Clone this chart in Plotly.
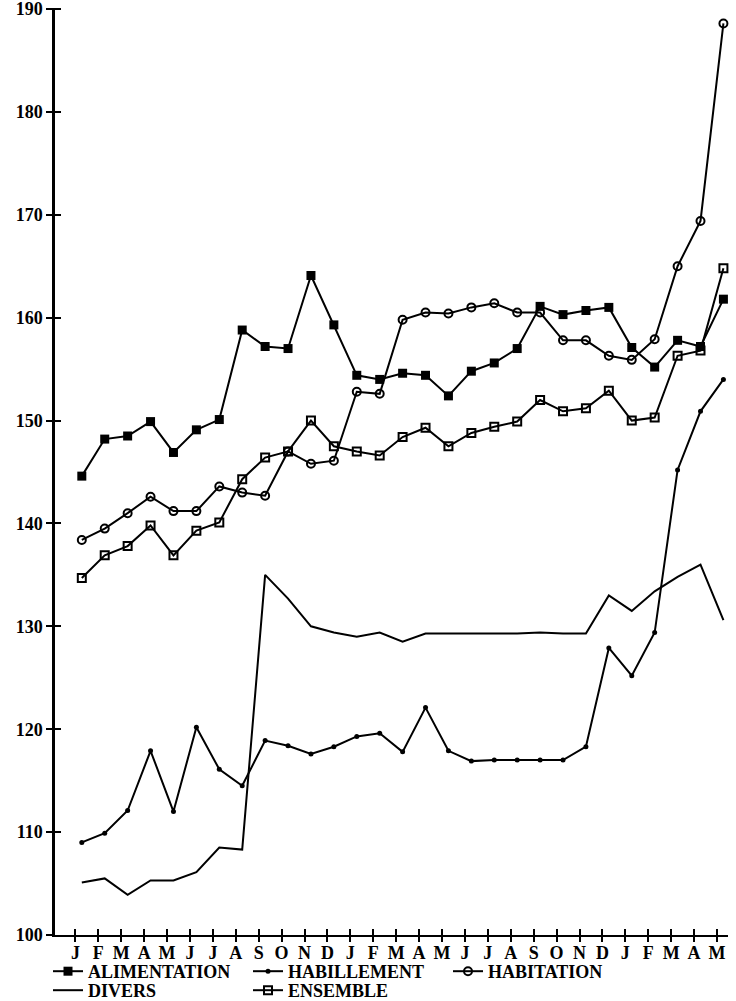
import plotly.graph_objects as go

months = ["J", "F", "M", "A", "M", "J", "J", "A", "S", "O", "N", "D",
          "J", "F", "M", "A", "M", "J", "J", "A", "S", "O", "N", "D",
          "J", "F", "M", "A", "M"]
alimentation = [144.6, 148.2, 148.5, 149.9, 146.9, 149.1, 150.1, 158.8, 157.2, 157.0,
                164.1, 159.3, 154.4, 154.0, 154.6, 154.4, 152.4, 154.8, 155.6, 157.0,
                161.1, 160.3, 160.7, 161.0, 157.1, 155.2, 157.8, 157.2, 161.8]
habillement = [109.0, 109.9, 112.1, 117.9, 112.0, 120.2, 116.1, 114.5, 118.9, 118.4,
               117.6, 118.3, 119.3, 119.6, 117.8, 122.1, 117.9, 116.9, 117.0, 117.0,
               117.0, 117.0, 118.3, 127.9, 125.2, 129.4, 145.2, 150.9, 154.0]
habitation = [138.4, 139.5, 141.0, 142.6, 141.2, 141.2, 143.6, 143.0, 142.7, 147.0,
              145.8, 146.1, 152.8, 152.6, 159.8, 160.5, 160.4, 161.0, 161.4, 160.5,
              160.5, 157.8, 157.8, 156.3, 155.9, 157.9, 165.0, 169.4, 188.6]
divers = [105.1, 105.5, 103.9, 105.3, 105.3, 106.1, 108.5, 108.3, 135.0, 132.7,
          130.0, 129.4, 129.0, 129.4, 128.5, 129.3, 129.3, 129.3, 129.3, 129.3,
          129.4, 129.3, 129.3, 133.0, 131.5, 133.4, 134.8, 136.0, 130.6]
ensemble = [134.7, 136.9, 137.8, 139.8, 136.9, 139.3, 140.1, 144.3, 146.4, 147.0,
            150.0, 147.5, 147.0, 146.6, 148.4, 149.3, 147.5, 148.8, 149.4, 149.9,
            152.0, 150.9, 151.2, 152.9, 150.0, 150.3, 156.3, 156.8, 164.8]
y_ticks = [100, 110, 120, 130, 140, 150, 160, 170, 180, 190]

x = list(range(len(months)))
tick_pos = [i - 0.28 for i in x]

FONT = "Liberation Serif"
BLACK = "black"

fig = go.Figure()

series = [
    ("ALIMENTATION", alimentation, dict(symbol="square", size=9, color=BLACK), "legend"),
    ("HABILLEMENT", habillement, dict(symbol="circle", size=5, color=BLACK), "legend"),
    ("HABITATION", habitation, dict(symbol="circle-open", size=8, color=BLACK,
                                    line=dict(width=2, color=BLACK)), "legend"),
    ("DIVERS", divers, None, "legend2"),
    ("ENSEMBLE", ensemble, dict(symbol="square-open", size=8, color=BLACK,
                                line=dict(width=2, color=BLACK)), "legend2"),
]
for name, vals, marker, leg in series:
    if marker is None:
        fig.add_trace(go.Scatter(x=x, y=vals, name=name, mode="lines", legend=leg,
                                 line=dict(color=BLACK, width=2), cliponaxis=False))
    else:
        fig.add_trace(go.Scatter(x=x, y=vals, name=name, mode="lines+markers",
                                 legend=leg, line=dict(color=BLACK, width=2),
                                 marker=marker, cliponaxis=False))

# dummy trace to register overlay axes (for crossing ticks)
fig.add_trace(go.Scatter(x=[None], y=[None], xaxis="x2", yaxis="y2",
                         showlegend=False, hoverinfo="skip"))

xr = [-1.17, 28.2]
yr = [100, 190.1]
tf = dict(family=FONT, size=18, color=BLACK, weight="bold")

leg_common = dict(orientation="h", xref="container", yref="container",
                  x=48 / 736, xanchor="left", yanchor="top",
                  entrywidth=155, entrywidthmode="pixels", tracegroupgap=0,
                  font=tf, bgcolor="rgba(0,0,0,0)")

fig.update_layout(
    width=736, height=1001,
    margin=dict(l=55, r=8, t=8, b=66),
    paper_bgcolor="white", plot_bgcolor="white",
    font=tf,
    xaxis=dict(range=xr, tickvals=tick_pos, ticktext=months, ticks="inside",
               ticklen=6, tickwidth=1.5, tickcolor=BLACK, showgrid=False,
               zeroline=False, showline=True, linecolor=BLACK, linewidth=2,
               tickfont=tf, automargin=False, ticklabeloverflow="allow"),
    yaxis=dict(range=yr, tickvals=y_ticks, ticks="outside", ticklen=6,
               tickwidth=1.5, tickcolor=BLACK, showgrid=False, zeroline=False,
               showline=True, linecolor=BLACK, linewidth=2.5,
               tickfont=tf, automargin=False, ticklabeloverflow="allow"),
    xaxis2=dict(range=xr, overlaying="x", tickvals=tick_pos, ticks="outside",
                side="bottom", anchor="y2",
                ticklen=6, tickwidth=1.5, tickcolor=BLACK, showticklabels=False,
                showgrid=False, zeroline=False, showline=False, automargin=False),
    yaxis2=dict(range=yr, overlaying="y", tickvals=y_ticks, ticks="inside",
                side="left", anchor="x2",
                ticklen=6, tickwidth=1.5, tickcolor=BLACK, showticklabels=False,
                showgrid=False, zeroline=False, showline=False, automargin=False),
    showlegend=True,
    legend=dict(leg_common, y=1 - 953 / 1001),
    legend2=dict(leg_common, y=1 - 972 / 1001),
)

fig.write_html("out.html", config={"displayModeBar": False},
               post_script="document.body.style.margin='0';document.body.style.padding='0';")
